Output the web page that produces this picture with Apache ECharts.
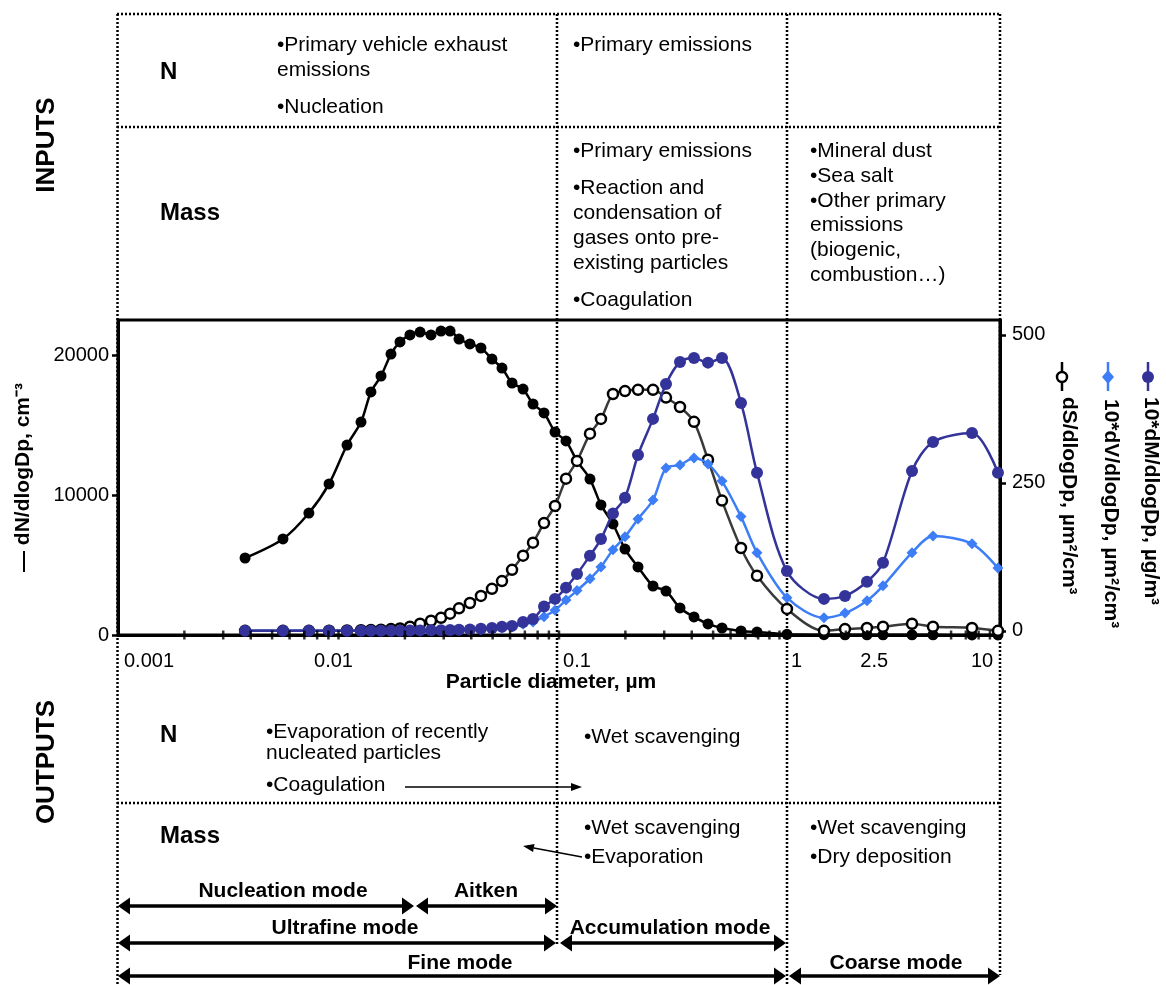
<!DOCTYPE html>
<html><head><meta charset="utf-8">
<script src="https://cdn.jsdelivr.net/npm/echarts@6/dist/echarts.min.js"></script>
<style>html,body{margin:0;padding:0;background:#fff}#c{width:1166px;height:985px}</style>
</head><body><div id="c"></div>
<script>
// Particle diameter (µm)
const diameters = [0.00377,0.00560,0.00734,0.00906,0.01093,0.01265,0.01403,0.01559,0.01730,0.01901,
  0.02109,0.02344,0.02627,0.02917,0.03206,0.03520,0.03945,0.04426,0.04966,0.05513,
  0.06124,0.06871,0.07621,0.08551,0.09594,0.1076,0.1207,0.1382,0.1550,0.1757,
  0.1992,0.2282,0.2669,0.3057,0.3538,0.4095,0.4739,0.5485,0.6689,0.7907,
  1.081,1.591,1.982,2.493,2.947,3.990,4.967,7.464,9.79];
// dN/dlogDp, cm-3 (left axis)
const dN = [5500,6860,8710,10790,13570,15210,17360,18500,20070,20930,
  21430,21640,21430,21710,21710,21140,20790,20500,19710,19070,
  18000,17570,16500,15860,14500,13860,12430,11140,9290,7930,
  6140,4860,3500,3140,1930,1290,790,500,290,210,
  50,20,15,15,10,10,10,5,5];
// dS/dlogDp, µm2/cm3 (right axis)
const dS = [0,0,0,0.3,0.6,1,1.5,2,3,4,
  7,12,17,22,29,38,47,59,71,84,
  103,127,149,182,211,257,287,333,358,400,
  405,407,407,394,378,353,289,220,140,93,
  37,0,3,5,7,12,7,5,0];
// 10*dV/dlogDp (right axis)
const dV10 = [0,0,0,0,0,0,0,0,0,0.1,
  0.2,0.3,0.4,0.5,1,1.5,2,2.5,3.5,5,
  7,11,15,24,35,52,68,88,108,137,
  159,189,221,275,280,292,282,253,193,132,
  56,22,30,51,76,132,160,147,106];
// 10*dM/dlogDp, µg/m3 (right axis)
const dM10 = [0,0,0,0,0,0,0,0,0,0.3,
  0.5,0.8,1,1.2,1.5,2,2.5,3.4,5,6.8,
  8.4,15,20,41,54,73,96,127,155,198,
  225,297,358,417,454,461,453,461,385,267,
  101,54,59,83,115,270,319,334,267];

const xTickLabels = ['0.001','0.01','0.1','1','10'];
const extraXTick = [2.5];
const xTickMarks = [0.002,0.003,0.004,0.005,0.006,0.007,0.008,0.009,0.01,
  0.02,0.03,0.04,0.05,0.06,0.07,0.08,0.09,0.1,
  0.2,0.3,0.4,0.5,0.6,0.7,0.8,0.9,1,
  2,2.5,3,4,5,6,7,8,9];
const leftTicks = [0,10000,20000];
const rightTicks = [0,250,500];

const FONT = '"Liberation Sans", Arial, Helvetica, sans-serif';
const zip = arr => diameters.map((d,i)=>[d, arr[i]]);

function txt(x, y, text, o) {
  o = o || {};
  return {type:'text', x:x, y:y + (o.bold ? 0 : 2), rotation:o.rot||0, z:20, silent:true,
    style:{text:text, fill:'#000', fontFamily:FONT, fontSize:o.size||21,
      fontWeight:o.bold?'bold':'normal', align:o.align||'left', verticalAlign:'middle'}};
}
function dotted(x1,y1,x2,y2){
  return {type:'line', z:1, silent:true, shape:{x1:x1,y1:y1,x2:x2,y2:y2},
    style:{stroke:'#000', lineWidth:2.5, lineDash:[2,2]}};
}
function dblArrow(xa, xb, y){
  const h=12, w=8.5;
  return [
    {type:'line', z:20, silent:true, shape:{x1:xa+h-2,y1:y,x2:xb-h+2,y2:y}, style:{stroke:'#000',lineWidth:3.5}},
    {type:'polygon', z:20, silent:true, shape:{points:[[xa,y],[xa+h,y-w],[xa+h,y+w]]}, style:{fill:'#000'}},
    {type:'polygon', z:20, silent:true, shape:{points:[[xb,y],[xb-h,y-w],[xb-h,y+w]]}, style:{fill:'#000'}}
  ];
}
function arrow(x1,y1,x2,y2){
  const dx=x2-x1, dy=y2-y1, L=Math.hypot(dx,dy), ux=dx/L, uy=dy/L, h=11, w=4;
  const bx=x2-ux*h, by=y2-uy*h;
  return [
    {type:'line', z:20, silent:true, shape:{x1:x1,y1:y1,x2:bx,y2:by}, style:{stroke:'#000',lineWidth:1.5}},
    {type:'polygon', z:20, silent:true, shape:{points:[[x2,y2],[bx-uy*w,by+ux*w],[bx+uy*w,by-ux*w]]}, style:{fill:'#000'}}
  ];
}

const g = [];
// table grid
g.push(dotted(117,14,1000,14), dotted(117,127,1000,127), dotted(117,803,1000,803));
g.push(dotted(117.5,14,117.5,985), dotted(557,14,557,945), dotted(787,14,787,985), dotted(1000,14,1000,975));
// section titles
g.push(txt(47,145,'INPUTS',{bold:true,size:26,rot:Math.PI/2,align:'center'}));
g.push(txt(47,762,'OUTPUTS',{bold:true,size:26,rot:Math.PI/2,align:'center'}));
// inputs N
g.push(txt(160,72,'N',{bold:true,size:24}));
g.push(txt(277,43,'•Primary vehicle exhaust'), txt(277,68,'emissions'), txt(277,105,'•Nucleation'));
g.push(txt(573,43,'•Primary emissions'));
// inputs Mass
g.push(txt(160,213,'Mass',{bold:true,size:24}));
g.push(txt(573,149,'•Primary emissions'), txt(573,186,'•Reaction and'), txt(573,211,'condensation of'),
  txt(573,236,'gases onto pre-'), txt(573,261,'existing particles'), txt(573,298,'•Coagulation'));
g.push(txt(810,149,'•Mineral dust'), txt(810,174,'•Sea salt'), txt(810,199,'•Other primary'),
  txt(810,223,'emissions'), txt(810,248,'(biogenic,'), txt(810,273,'combustion…)'));
// outputs N
g.push(txt(160,735,'N',{bold:true,size:24}));
g.push(txt(266,730,'•Evaporation of recently'), txt(266,751,'nucleated particles'), txt(266,783,'•Coagulation'));
g.push.apply(g, arrow(405,787,582,787));
g.push(txt(584,735,'•Wet scavenging'));
// outputs Mass
g.push(txt(160,836,'Mass',{bold:true,size:24}));
g.push(txt(584,826,'•Wet scavenging'), txt(584,855,'•Evaporation'));
g.push.apply(g, arrow(582,857,523,846));
g.push(txt(810,826,'•Wet scavenging'), txt(810,855,'•Dry deposition'));
// mode arrows
g.push(txt(283,891,'Nucleation mode',{bold:true,align:'center'}));
g.push(txt(486,891,'Aitken',{bold:true,align:'center'}));
g.push.apply(g, dblArrow(118,414,906));
g.push.apply(g, dblArrow(416,557,906));
g.push(txt(345,928,'Ultrafine mode',{bold:true,align:'center'}));
g.push(txt(670,928,'Accumulation mode',{bold:true,align:'center'}));
g.push.apply(g, dblArrow(118,556,943));
g.push.apply(g, dblArrow(560,786,943));
g.push(txt(460,963,'Fine mode',{bold:true,align:'center'}));
g.push(txt(896,963,'Coarse mode',{bold:true,align:'center'}));
g.push.apply(g, dblArrow(118,786,976));
g.push.apply(g, dblArrow(789,1000,976));
// right-side legends (rotated)
function legendLine(x){ return {type:'line', z:20, silent:true, shape:{x1:x,y1:362,x2:x,y2:391}, style:{stroke:'#000',lineWidth:2.5}}; }
g.push(legendLine(1062), {type:'circle', z:21, silent:true, shape:{cx:1062,cy:377,r:5}, style:{fill:'#fff',stroke:'#000',lineWidth:2.5}});
g.push(txt(1069,397,'dS/dlogDp, µm²/cm³',{bold:true,rot:-Math.PI/2}));
const lv = legendLine(1108); lv.style.stroke = '#3d7ef7'; g.push(lv);
g.push({type:'polygon', z:21, silent:true, shape:{points:[[1108,370],[1114,377],[1108,384],[1102,377]]}, style:{fill:'#3d7ef7'}});
g.push(txt(1111,399,'10*dV/dlogDp, µm²/cm³',{bold:true,rot:-Math.PI/2}));
const lm = legendLine(1148); lm.style.stroke = '#333399'; g.push(lm);
g.push({type:'circle', z:21, silent:true, shape:{cx:1148,cy:377,r:6}, style:{fill:'#333399'}});
g.push(txt(1151,397,'10*dM/dlogDp, µg/m³',{bold:true,rot:-Math.PI/2}));

const xShift = {p0:[0,0,0,62], p1:[0,10,0,0], p2:[0,0,0,36], p3:[0,0,0,34], p4:[0,36,0,0]};
const rich = {};
Object.keys(xShift).forEach(k => rich[k] = {padding:xShift[k], fontSize:20, fontFamily:FONT, color:'#000'});

const lineCommon = {type:'line', smooth:0.3, showSymbol:true, clip:false, silent:true, animation:false};

const option = {
  animation:false,
  backgroundColor:'#fff',
  textStyle:{fontFamily:FONT},
  grid:{left:118, right:166, top:320, bottom:350, show:true, borderColor:'#000', borderWidth:3, backgroundColor:'transparent'},
  xAxis:{type:'log', logBase:10, min:0.001, max:10,
    name:'Particle diameter, µm', nameLocation:'middle', nameGap:35,
    nameTextStyle:{fontSize:21, fontWeight:'bold', color:'#000', fontFamily:FONT, padding:[0,16,0,0]},
    axisLine:{show:true, lineStyle:{color:'#000', width:3}},
    axisTick:{show:false}, minorTick:{show:false}, splitLine:{show:false}, minorSplitLine:{show:false},
    axisLabel:{margin:16, showMinLabel:true, showMaxLabel:true, color:'#000', fontSize:20, fontFamily:FONT,
      formatter: v => { const i = Math.round(Math.log10(v)) + 3; return '{p'+i+'|'+xTickLabels[i]+'}'; }, rich:rich}
  },
  yAxis:[
    {type:'value', min:0, max:22500, position:'left',
      name:'— dN/dlogDp, cm⁻³', nameLocation:'middle', nameRotate:90, nameGap:84,
      nameTextStyle:{fontSize:21, fontWeight:'bold', color:'#000', fontFamily:FONT},
      axisLine:{show:true, lineStyle:{color:'#000', width:3}},
      axisTick:{show:true, length:6, lineStyle:{width:2.5, color:'#000'}, customValues:leftTicks},
      axisLabel:{margin:9, color:'#000', fontSize:20, fontFamily:FONT, customValues:leftTicks, formatter:v=>String(v)},
      splitLine:{show:false}},
    {type:'value', min:-7, max:525, position:'right',
      axisLine:{show:true, lineStyle:{color:'#000', width:3}},
      axisTick:{show:true, length:6, lineStyle:{width:2.5, color:'#000'}, customValues:rightTicks},
      axisLabel:{margin:12, color:'#000', fontSize:20, fontFamily:FONT, customValues:rightTicks, formatter:v=>String(v)},
      splitLine:{show:false}}
  ],
  series:[
    Object.assign({}, lineCommon, {name:'dN/dlogDp', yAxisIndex:0, z:3, data:zip(dN),
      symbol:'circle', symbolSize:11, itemStyle:{color:'#000'}, lineStyle:{color:'#000', width:2.5}}),
    Object.assign({}, lineCommon, {name:'dS/dlogDp', yAxisIndex:1, z:4, data:zip(dS),
      symbol:'circle', symbolSize:10, itemStyle:{color:'#fff', borderColor:'#000', borderWidth:2.5}, lineStyle:{color:'#3a3a3a', width:2.5}}),
    Object.assign({}, lineCommon, {name:'10*dV/dlogDp', yAxisIndex:1, z:5, data:zip(dV10),
      symbol:'diamond', symbolSize:11, itemStyle:{color:'#3d7ef7'}, lineStyle:{color:'#3d7ef7', width:2.5}}),
    Object.assign({}, lineCommon, {name:'10*dM/dlogDp', yAxisIndex:1, z:6, data:zip(dM10),
      symbol:'circle', symbolSize:12, itemStyle:{color:'#333399'}, lineStyle:{color:'#333399', width:2.5}}),
    {type:'scatter', name:'xticks', yAxisIndex:0, z:8, clip:false, silent:true, data:xTickMarks.map(v=>[v,0]),
      symbol:'rect', symbolSize:[2.5,9], itemStyle:{color:'#000'}},
    {type:'scatter', name:'xlabel2.5', yAxisIndex:0, z:8, clip:false, silent:true, data:extraXTick.map(v=>[v,0]),
      symbol:'rect', symbolSize:[2.5,9], itemStyle:{color:'#000', opacity:1},
      label:{show:true, position:'bottom', distance:12, offset:[7,0], formatter:p=>String(p.value[0]),
        color:'#000', opacity:1, fontSize:20, fontFamily:FONT}}
  ],
  graphic:{elements:g}
};
const chart = echarts.init(document.getElementById('c'), null, {renderer:'canvas'});
chart.setOption(option);
</script>
</body></html>
